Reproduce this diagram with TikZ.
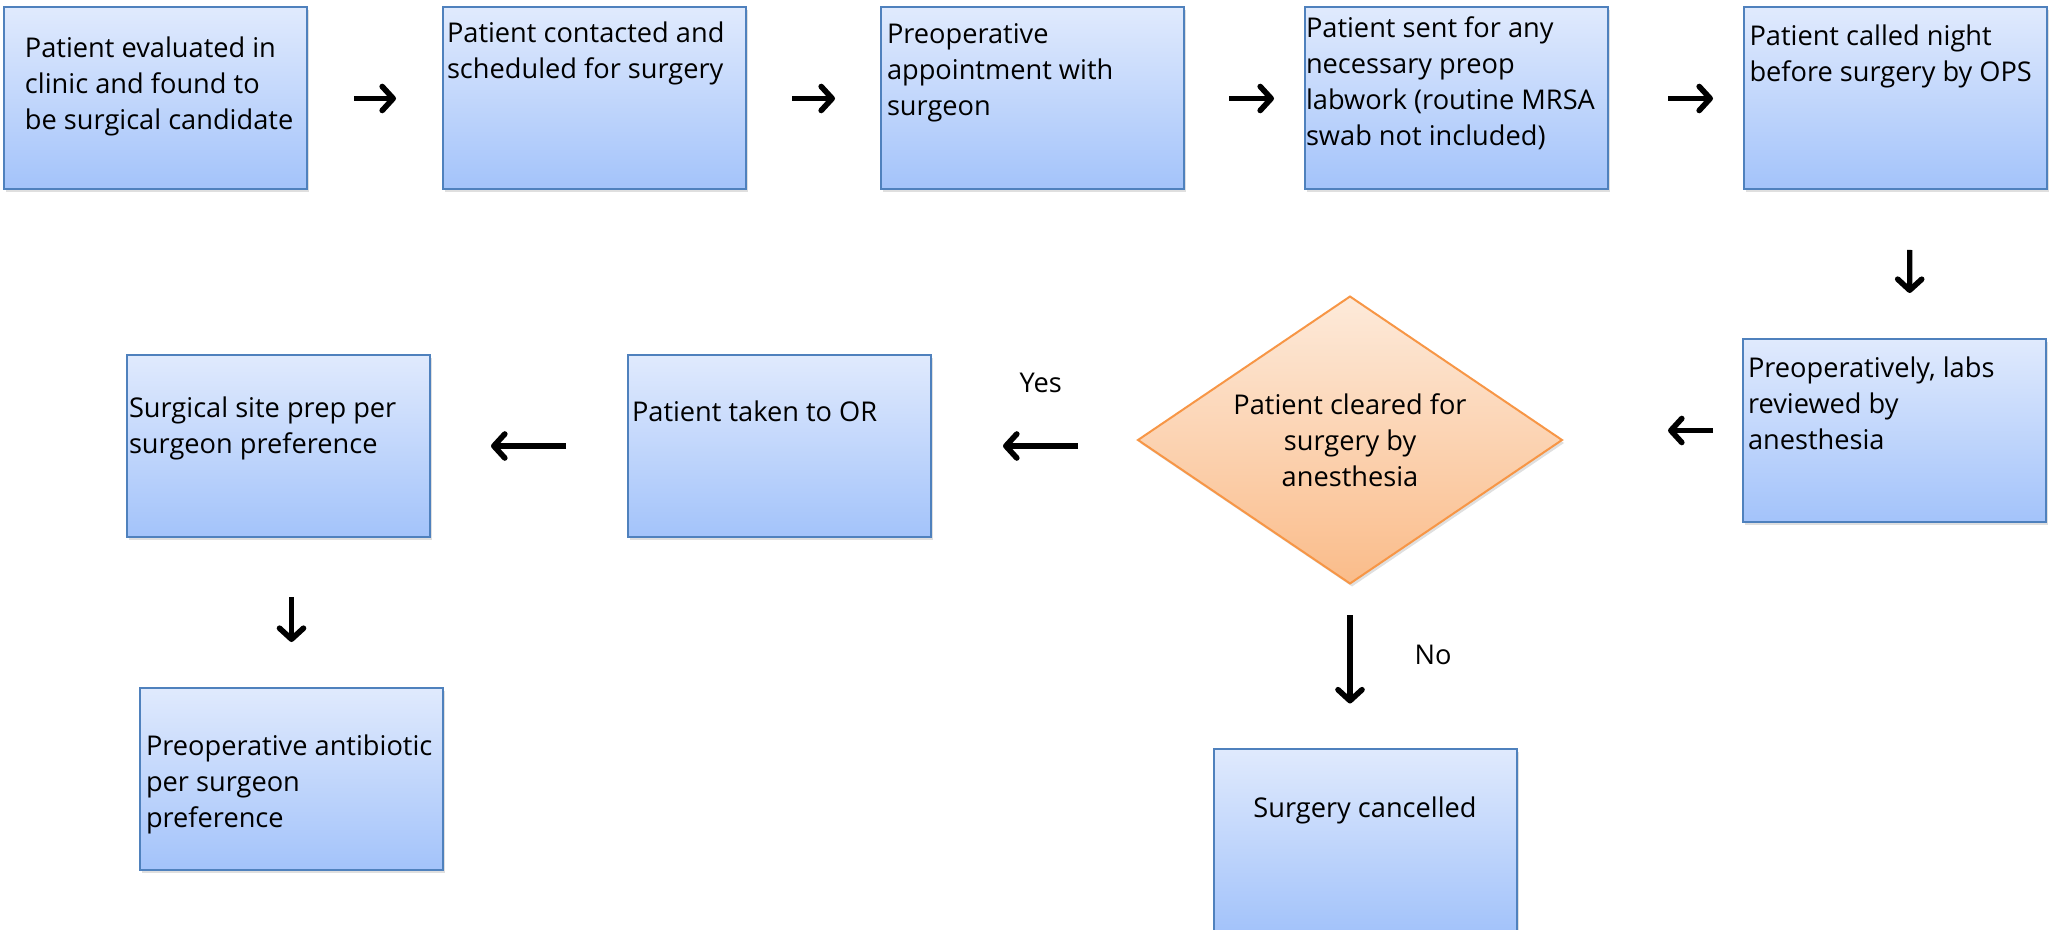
\documentclass[tikz,border=0pt]{standalone}
\usepackage{fontspec}
\setmainfont{Open Sans}
\usepackage{tikz}
\usetikzlibrary{arrows.meta,shapes.geometric,shadows}
\definecolor{boxline}{RGB}{79,129,189}
\definecolor{boxtop}{RGB}{224,234,253}
\definecolor{boxbot}{RGB}{163,195,250}
\definecolor{diatop}{RGB}{253,234,218}
\definecolor{diabot}{RGB}{250,188,138}
\definecolor{dialine}{RGB}{247,150,70}
\newcommand{\flowfont}{\fontsize{13.6pt}{18pt}\selectfont}

\begin{document}
\begin{tikzpicture}[x=0.5pt,y=-0.5pt,font=\flowfont,
  stepbox/.style n args={2}{draw=boxline,line width=1pt,top color=boxtop,bottom color=boxbot,minimum width=151.5pt,minimum height=91pt,inner sep=0pt,outer sep=0pt,drop shadow={shadow xshift=1pt,shadow yshift=-1.5pt,opacity=0.25},
    execute at begin node={\begin{minipage}[c][91pt][t]{151.5pt}\flowfont\vspace*{#2}\raggedright\leftskip=#1\relax\strut},
    execute at end node={\end{minipage}}},
  decision/.style={diamond,aspect=1.48,draw=dialine,line width=1pt,top color=diatop,bottom color=diabot,minimum width=212pt,minimum height=143.5pt,inner sep=0pt,outer sep=0pt,align=center,drop shadow={shadow xshift=1pt,shadow yshift=-1.5pt,opacity=0.25}},
  flowarrow/.style={line width=2.6pt,-{Straight Barb[length=5.5pt,width=12pt,line width=2.8pt,round]}}]
\useasboundingbox (0,0) rectangle (2056,930);
% first row
\node[stepbox={10.75pt}{12.5pt}] (clinic) at (155,98.5) {Patient evaluated in\\clinic and found to\\be surgical candidate};
\node[stepbox={2pt}{5pt}] (contact) at (594.5,98.5) {Patient contacted and\\scheduled for surgery};
\node[stepbox={3pt}{5.25pt}] (preop) at (1032.5,98.5) {Preoperative\\appointment with\\surgeon};
\node[stepbox={0.5pt}{2.25pt}] (labs) at (1456.5,98.5) {Patient sent for any\\necessary preop\\labwork (routine MRSA\\swab not included)};
\node[stepbox={3pt}{6.25pt}] (ops) at (1895,98.5) {Patient called night\\before surgery by OPS};
% second row
\node[stepbox={2.5pt}{6.25pt}] (reviewed) at (1894.5,430.5) {Preoperatively, labs\\reviewed by\\anesthesia};
\node[decision] (cleared) at (1350,440) {Patient cleared for\\surgery by\\anesthesia};
\node[stepbox={2pt}{20.5pt}] (theatre) at (779.5,446) {Patient taken to OR};
\node[stepbox={1.25pt}{18.5pt}] (siteprep) at (278,446) {Surgical site prep per\\surgeon preference};
% third row
\node[stepbox={3pt}{21.25pt}] (antibiotic) at (291.5,778.5) {Preoperative antibiotic\\per surgeon\\preference};
\node[stepbox={0pt}{22pt},execute at begin node=\centering] (cancelled) at (1365,839.5) {Surgery cancelled};
% arrows
\draw[flowarrow,shorten <=23.75pt,shorten >=23.5pt] (clinic) -- (contact);
\draw[flowarrow,shorten <=23pt,shorten >=23pt] (contact) -- (preop);
\draw[flowarrow,shorten <=22.5pt,shorten >=15.5pt] (preop) -- (labs);
\draw[flowarrow,shorten <=30pt,shorten >=15.25pt] (labs) -- (ops);
\draw[flowarrow,shorten <=30.25pt,shorten >=23.25pt] ([xshift=7.5pt]ops.south) -- ([xshift=7.5pt]reviewed.north);
\draw[flowarrow,shorten <=15pt,shorten >=53pt] (reviewed.west) -- (reviewed.west -| cleared.east);
\draw[flowarrow,shorten <=30pt,shorten >=36pt] (cleared.west |- theatre.east) -- (theatre.east)
   node[pos=0.47,yshift=31.5pt] (yes) {Yes};
\draw[flowarrow,shorten <=31pt,shorten >=30.75pt] (theatre) -- (siteprep);
\draw[flowarrow,shorten <=30pt,shorten >=22.75pt] (siteprep.south -| antibiotic.north) -- (antibiotic.north);
\draw[flowarrow,shorten <=15.75pt,shorten >=22.5pt] (cleared.south) -- (cleared.south |- cancelled.north)
   node[pos=0.435,xshift=41.5pt] (no) {No};
\end{tikzpicture}
\end{document}
